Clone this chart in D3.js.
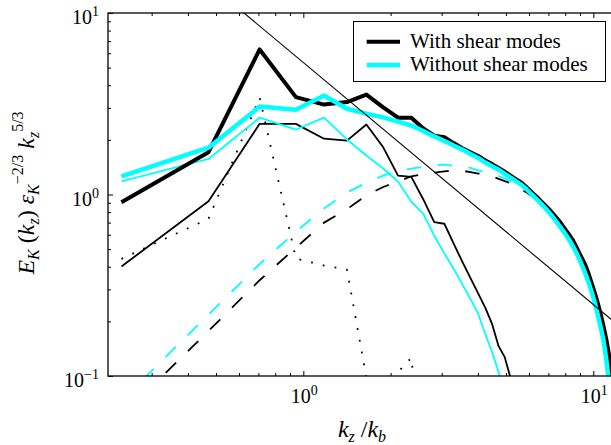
<!DOCTYPE html>
<html><head><meta charset="utf-8">
<script src="https://cdn.jsdelivr.net/npm/d3@7"></script>
<style>
body{margin:0;background:#fff}
svg{display:block}
text{font-family:"Liberation Serif","Times New Roman",serif;fill:#000}
</style>
</head><body>
<svg id="c" width="611" height="445"></svg>
<script>
// wavenumbers k_z/k_b
const kz=[0.236,0.471,0.707,0.943,1.179,1.414,1.650,1.886,2.121,2.357,2.593,2.828,3.064,3.300,3.536,3.771,4.007,4.243,4.478,4.714,4.950,5.185,5.421,5.657,5.893,6.128,6.364,6.600,6.835,7.071,7.307,7.542,7.778,8.014,8.250,8.485,8.721,8.957,9.192,9.428,9.664,9.899,10.135,10.371,10.607,10.842,11.078,11.314,11.550];
// total spectrum, with shear modes (thick black)
const totalWith=[0.907,1.71,6.3,3.44,3.13,3.23,3.55,3.02,2.65,2.65,2.31,2.11,2.07,1.92,1.80,1.71,1.63,1.54,1.47,1.40,1.335,1.27,1.21,1.16,1.095,1.03,0.975,0.92,0.87,0.823,0.775,0.730,0.685,0.640,0.60,0.563,0.518,0.474,0.437,0.402,0.36,0.320,0.284,0.2505,0.218,0.188,0.16,0.132,0.10];
// total spectrum, without shear modes (thick cyan)
const totalWithout=[1.26,1.81,3.05,2.93,3.51,2.97,2.79,2.66,2.52,2.40,2.24,2.09,1.97,1.86,1.77,1.67,1.59,1.50,1.43,1.37,1.30,1.24,1.18,1.13,1.065,1.00,0.945,0.891,0.84,0.789,0.74,0.692,0.647,0.605,0.563,0.523,0.48,0.439,0.398,0.360,0.322,0.286,0.25,0.2155,0.185,0.157,0.124,0.094,0.072];
// thin solid components
const thinWith=[0.401,0.919,2.45,2.45,2.03,1.98,2.43,1.82,1.27,1.25,0.939,0.704,0.690,0.536,0.425,0.346,0.2855,0.2375,0.193,0.146,0.127,0.097,0.07];
const thinWithout=[1.18,1.57,2.65,2.28,2.65,2.01,1.64,1.39,1.18,0.912,0.783,0.593,0.474,0.39,0.32,0.265,0.2205,0.17,0.135,0.105,0.08];
// dashed components
const dashWith=[0.06,0.177,0.337,0.51,0.70,0.83,0.99,1.10,1.18,1.26,1.29,1.32,1.34,1.36,1.35,1.33,1.305,1.29,1.256,1.22,1.185,1.155,1.107,1.065,1.026,0.98,0.93,0.89,0.845,0.80];
const dashWithout=[0.073,0.218,0.414,0.625,0.837,1.026,1.16,1.27,1.35,1.39,1.42,1.45,1.46,1.44,1.42,1.40,1.36,1.33,1.30,1.264,1.225,1.18,1.14,1.107,1.05,0.99,0.935,0.88];
// dotted component (shear modes)
const dotWith=[0.442,0.735,3.42,0.444,0.406,0.386,0.098,0.02,0.105,0.126,0.03];
// reference slope line
const refK=[0.5,12];
const refE=[13.45,0.194];
// ticks
const xMajor=[1,10], xMajorExp=["0","1"];
const yMajor=[0.1,1,10], yMajorExp=["\u22121","0","1"];
const legendLabels=["With shear modes","Without shear modes"];

const svg=d3.select('#c');
const L=108,T=13,R=616.3,B=376;
const x=d3.scaleLog().domain([0.2121,12]).range([L,R]);
const y=d3.scaleLog().domain([0.1,10]).range([B,T]);

svg.append('defs').append('clipPath').attr('id','clip')
  .append('rect').attr('x',L).attr('y',T).attr('width',R-L).attr('height',B-T);
const g=svg.append('g').attr('clip-path','url(#clip)');

const line=d3.line().defined(d=>d[1]!=null&&d[1]>0).x(d=>x(d[0])).y(d=>y(d[1]));
function draw(xs,vals,color,w,dash){
  const pts=vals.map((v,i)=>[xs[i],v]);
  const p=g.append('path').datum(pts).attr('d',line).attr('fill','none')
    .attr('stroke',color).attr('stroke-width',w).attr('stroke-linejoin','round');
  if(dash) p.attr('stroke-dasharray',dash);
  return p;
}
const CY='#00ffff';
draw(kz,dashWith,'#000',1.8,'14.5,16.5');
draw(kz,dashWithout,CY,1.8,'14.5,16.5');
draw(kz,dotWith,'#000',1.8,'1.8,10.2');
draw(kz,thinWith,'#000',1.8);
draw(kz,thinWithout,CY,1.8);
draw(kz,totalWith,'#000',4);
draw(kz,totalWithout,CY,4.5);
draw(refK,refE,'#000',1.1);

// ticks
function minors(lo,hi){const a=[];for(let e=lo;e<hi;e++)for(let m=2;m<=9;m++)a.push(m*Math.pow(10,e));return a;}
const xMin=minors(-1,2).filter(v=>v>0.2121&&v<12);
const yMin=minors(-1,1);
function ax(gen,scale,vals,size,tr){
  svg.append('g').attr('transform',tr).call(gen(scale).tickValues(vals).tickSize(size).tickFormat(''))
    .call(s=>{s.select('.domain').remove();s.selectAll('line').attr('stroke','#000').attr('stroke-width',1);});
}
ax(d3.axisTop,x,xMajor,5,`translate(0,${B})`);
ax(d3.axisTop,x,xMin,3,`translate(0,${B})`);
ax(d3.axisBottom,x,xMajor,5,`translate(0,${T})`);
ax(d3.axisBottom,x,xMin,3,`translate(0,${T})`);
ax(d3.axisRight,y,yMajor,5,`translate(${L},0)`);
ax(d3.axisRight,y,yMin,3,`translate(${L},0)`);
ax(d3.axisLeft,y,yMajor,5,`translate(${R},0)`);
ax(d3.axisLeft,y,yMin,3,`translate(${R},0)`);
svg.append('rect').attr('x',L).attr('y',T).attr('width',R-L).attr('height',B-T)
  .attr('fill','none').attr('stroke','#000').attr('stroke-width',1.3);

// tick labels
yMajor.forEach((v,i)=>{
  const t=svg.append('text').attr('x',99).attr('y',y(v)+11).attr('text-anchor','end').attr('font-size',20);
  t.append('tspan').text('10');
  t.append('tspan').attr('font-size',14).attr('dy',-8).text(yMajorExp[i]);
});
xMajor.forEach((v,i)=>{
  const t=svg.append('text').attr('x',x(v)+1).attr('y',403).attr('text-anchor','middle').attr('font-size',20);
  t.append('tspan').text('10');
  t.append('tspan').attr('font-size',14).attr('dy',-8).text(xMajorExp[i]);
});

// axis titles
const xt=svg.append('text').attr('x',362).attr('y',437).attr('text-anchor','middle').attr('font-size',24);
xt.append('tspan').attr('font-style','italic').text('k');
xt.append('tspan').attr('font-style','italic').attr('font-size',16).attr('dy',5).text('z');
xt.append('tspan').attr('dy',-5).attr('dx',6).text('/');
xt.append('tspan').attr('font-style','italic').text('k');
xt.append('tspan').attr('font-style','italic').attr('font-size',16).attr('dy',5).text('b');

const yt=svg.append('text').attr('transform','translate(33.5,193) rotate(-90)').attr('text-anchor','middle').attr('font-size',24);
yt.append('tspan').attr('font-style','italic').text('E');
yt.append('tspan').attr('font-style','italic').attr('font-size',16).attr('dy',5).text('K');
yt.append('tspan').attr('dy',-5).text(' (');
yt.append('tspan').attr('font-style','italic').text('k');
yt.append('tspan').attr('font-style','italic').attr('font-size',16).attr('dy',5).text('z');
yt.append('tspan').attr('dy',-5).text(') ');
yt.append('tspan').attr('font-style','italic').text('\u03b5');
yt.append('tspan').attr('font-style','italic').attr('font-size',16).attr('dy',5).text('K');
yt.append('tspan').attr('font-size',16).attr('dy',-16).text('\u22122/3');
yt.append('tspan').attr('dy',11).text(' ');
yt.append('tspan').attr('font-style','italic').text('k');
yt.append('tspan').attr('font-style','italic').attr('font-size',16).attr('dy',5).text('z');
yt.append('tspan').attr('font-size',16).attr('dy',-16).text('5/3');

// legend
svg.append('rect').attr('x',353.5).attr('y',21.5).attr('width',252).attr('height',60)
  .attr('fill','#fff').attr('stroke','#000').attr('stroke-width',1);
[['#000',4,41.7],[CY,4.5,65]].forEach((d,i)=>{
  svg.append('line').attr('x1',366.7).attr('x2',400).attr('y1',d[2]).attr('y2',d[2])
    .attr('stroke',d[0]).attr('stroke-width',d[1]);
  svg.append('text').attr('x',410).attr('y',d[2]+6).attr('font-size',21).text(legendLabels[i]);
});
</script>
</body></html>
